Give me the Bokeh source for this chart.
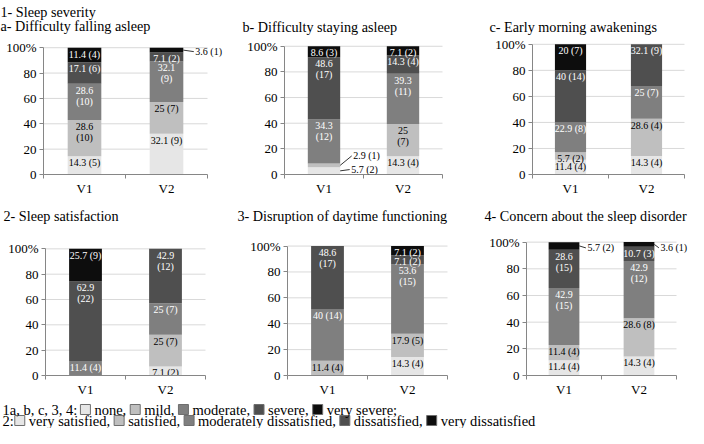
from bokeh.plotting import figure
from bokeh.models import Range1d, FixedTicker, CustomJSTickFormatter, ColumnDataSource, LabelSet, Title
from bokeh.layouts import row, column
from bokeh.core.properties import value
from bokeh.embed import file_html
from bokeh.resources import INLINE

FONT = "'Liberation Serif', serif"

# ---------------- data ----------------
visits = ["V1", "V2"]
severity_levels = ["none", "mild", "moderate", "severe", "very severe"]
satisfaction_levels = ["very satisfied", "satisfied", "moderately dissatisfied",
                       "dissatisfied", "very dissatisfied"]

y_ticks = [0, 20, 40, 60, 80, 100]
y_tick_labels = ["0", "20", "40", "60", "80", "100%"]

# percentages [V1, V2], per level (lightest -> darkest)
p1a_pct = [[14.3, 28.6, 28.6, 17.1, 11.4], [32.1, 25, 32.1, 7.1, 3.6]]
p1a_n = [[5, 10, 10, 6, 4], [9, 7, 9, 2, 1]]
p1b_pct = [[5.7, 2.9, 34.3, 48.6, 8.6], [14.3, 25, 39.3, 14.3, 7.1]]
p1b_n = [[2, 1, 12, 17, 3], [4, 7, 11, 4, 2]]
p1c_pct = [[11.4, 5.7, 22.9, 40, 20], [14.3, 28.6, 25, 32.1, 0]]
p1c_n = [[4, 2, 8, 14, 7], [4, 4, 7, 9, 0]]
p2_pct = [[0, 0, 11.4, 62.9, 25.7], [7.1, 25, 25, 42.9, 0]]
p2_n = [[0, 0, 4, 22, 9], [2, 7, 7, 12, 0]]
p3_pct = [[0, 11.4, 40, 48.6, 0], [14.3, 17.9, 53.6, 7.1, 7.1]]
p3_n = [[0, 4, 14, 17, 0], [4, 5, 15, 2, 2]]
p4_pct = [[11.4, 11.4, 42.9, 28.6, 5.7], [14.3, 28.6, 42.9, 10.7, 3.6]]
p4_n = [[4, 4, 15, 15, 2], [4, 8, 12, 3, 1]]

panel_titles = ["a- Difficulty falling asleep", "b- Difficulty staying asleep",
                "c- Early morning awakenings", "2- Sleep satisfaction",
                "3- Disruption of daytime functioning", "4- Concern about the sleep disorder"]
header_title = "1- Sleep severity"

legend_line1 = ["1a, b, c, 3, 4:", "none,", "mild,", "moderate,", "severe,", "very severe;"]
legend_line2 = ["2:", "very satisfied,", "satisfied,", "moderately dissatisfied,",
                "dissatisfied,", "very dissatisfied"]

# ---------------- style / layout ----------------
colors = ["#e6e6e6", "#bfbfbf", "#7f7f7f", "#4f4f4f", "#0d0d0d"]
label_colors = ["black", "black", "white", "white", "white"]
AXIS = "#868686"
GRID = "#d9d9d9"
BAR_W = 0.41
LABEL_SIZE = 10
TITLE_SIZE = "14.2px"

# pixel geometry of each panel: canvas origin/size, axis start/length,
# 100% line, 0 line, frame top, title x
panels = [
    dict(pct=p1a_pct, n=p1a_n, wrap=[(0, 1), (0, 2), (1, 2)], callouts={(1, 4): (12, -1.6)},
         X0=0, Y0=0, W=236, H=200, ax=43, alen=164, y100=44, y0=179, ftop=31, tx=0),
    dict(pct=p1b_pct, n=p1b_n, wrap=[(0, 2), (0, 3), (1, 1), (1, 2)],
         callouts={(0, 0): (11, 1.3), (0, 1): (13, 9.6)},
         X0=236, Y0=0, W=248, H=200, ax=284, alen=158, y100=43, y0=174, ftop=32, tx=242),
    dict(pct=p1c_pct, n=p1c_n, wrap=[], callouts={},
         X0=484, Y0=0, W=204, H=200, ax=532, alen=152, y100=44, y0=177, ftop=35, tx=489),
    dict(pct=p2_pct, n=p2_n, wrap=[(0, 3), (1, 3)], callouts={},
         X0=0, Y0=200, W=232, H=199, ax=45, alen=160, y100=248, y0=378, ftop=223, tx=3),
    dict(pct=p3_pct, n=p3_n, wrap=[(0, 3), (1, 2)], callouts={},
         X0=232, Y0=200, W=252, H=199, ax=287, alen=160, y100=246, y0=378, ftop=224, tx=237),
    dict(pct=p4_pct, n=p4_n, wrap=[(0, 2), (0, 3), (1, 2)],
         callouts={(0, 4): (8, -2), (1, 4): (6, -3.5)},
         X0=484, Y0=200, W=204, H=199, ax=526, alen=150, y100=242, y0=378, ftop=224, tx=484),
]


def make_panel(i, spec):
    W, H, X0, Y0 = spec["W"], spec["H"], spec["X0"], spec["Y0"]
    bl = spec["ax"] - X0
    bt = spec["ftop"] - Y0
    bb = Y0 + H - spec["y0"]
    ppx = spec["alen"] / 2.0                       # px per x unit
    ppy = (spec["y0"] - spec["y100"]) / 100.0      # px per y unit
    x_end = (X0 + W - spec["ax"]) / ppx
    y_end = (spec["y0"] - spec["ftop"]) / ppy

    p = figure(width=W, height=H, x_range=Range1d(0, x_end), y_range=Range1d(0, y_end),
               output_backend="svg", toolbar_location=None, tools="", title=None,
               min_border_left=bl, min_border_right=0, min_border_top=bt, min_border_bottom=bb)
    p.outline_line_color = None
    p.background_fill_color = "white"
    p.border_fill_color = "white"

    # horizontal gridlines limited to the plot area (0..2)
    gy = y_ticks[1:]
    p.segment(x0=[0] * len(gy), y0=gy, x1=[len(visits)] * len(gy), y1=gy,
              line_color=GRID, line_width=1)

    bars = dict(x=[], bottom=[], top=[], color=[])
    inl = dict(x=[], y=[], text=[], tcolor=[])
    outl = dict(x=[], y=[], text=[])
    lead = dict(x0=[], y0=[], x1=[], y1=[])
    for vi in range(len(visits)):
        xc = vi + 0.5
        bottom = 0.0
        for ci in range(5):
            v = spec["pct"][vi][ci]
            if v <= 0:
                continue
            top = bottom + v
            bars["x"].append(xc)
            bars["bottom"].append(bottom)
            bars["top"].append(top)
            bars["color"].append(colors[ci])
            sep = "\n" if (vi, ci) in spec["wrap"] else " "
            txt = f"{v:g}{sep}({spec['n'][vi][ci]})"
            if (vi, ci) in spec["callouts"]:
                dx, dy = spec["callouts"][(vi, ci)]
                xr = xc + BAR_W / 2
                ym = (bottom + top) / 2
                outl["x"].append(xr + dx / ppx)
                outl["y"].append(ym + dy / ppy)
                outl["text"].append(txt)
                lead["x0"].append(xr)
                lead["y0"].append(ym)
                lead["x1"].append(xr + (dx - 1.5) / ppx)
                lead["y1"].append(ym + dy / ppy)
            else:
                inl["x"].append(xc)
                inl["y"].append(top - 1.0 / ppy)
                inl["text"].append(txt)
                inl["tcolor"].append(label_colors[ci])
            bottom = top

    p.vbar(x="x", bottom="bottom", top="top", width=BAR_W, fill_color="color",
           line_color=None, source=ColumnDataSource(bars))
    p.text(x="x", y="y", text="text", text_color="tcolor", source=ColumnDataSource(inl),
           text_font=value(FONT), text_font_size=value(f"{LABEL_SIZE}px"),
           text_align="center", text_baseline="top", text_line_height=1.0)
    if outl["x"]:
        p.segment(x0="x0", y0="y0", x1="x1", y1="y1", source=ColumnDataSource(lead),
                  line_color="black", line_width=0.8)
        p.add_layout(LabelSet(x="x", y="y", text="text", source=ColumnDataSource(outl),
                              text_font=value(FONT), text_font_size=value(f"{LABEL_SIZE}px"),
                              text_color="black", text_align="left", text_baseline="middle"))

    # axes
    xa = p.xaxis[0]
    xa.bounds = (0, len(visits))
    xa.ticker = FixedTicker(ticks=[k + 0.5 for k in range(len(visits))],
                            minor_ticks=list(range(len(visits) + 1)))
    xa.formatter = CustomJSTickFormatter(args=dict(xlabels=visits),
                                         code="return xlabels[Math.floor(tick)];")
    xa.major_tick_line_color = None
    xa.major_tick_out = 4
    xa.major_tick_in = 0
    xa.minor_tick_line_color = AXIS
    xa.minor_tick_out = 4
    xa.minor_tick_in = 0
    xa.axis_line_color = AXIS
    xa.major_label_standoff = 2
    xa.major_label_text_font = FONT
    xa.major_label_text_font_size = "13px"
    xa.major_label_text_color = "black"

    ya = p.yaxis[0]
    ya.bounds = (0, 100)
    ya.ticker = FixedTicker(ticks=y_ticks)
    ya.formatter = CustomJSTickFormatter(args=dict(yvals=y_ticks, ylabels=y_tick_labels),
                                         code="const k = yvals.indexOf(tick); return k >= 0 ? ylabels[k] : '';")
    ya.major_tick_line_color = AXIS
    ya.major_tick_out = 4
    ya.major_tick_in = 0
    ya.minor_tick_line_color = None
    ya.axis_line_color = AXIS
    ya.major_label_standoff = 3
    ya.major_label_text_font = FONT
    ya.major_label_text_font_size = "13px"
    ya.major_label_text_color = "black"

    p.xgrid.visible = False
    p.ygrid.visible = False

    ttext = panel_titles[i] if i != 0 else header_title + "\n" + panel_titles[i]
    p.add_layout(Title(text=ttext, align="left", offset=spec["tx"] - spec["ax"], standoff=2,
                       text_font=FONT, text_font_size=TITLE_SIZE, text_font_style="normal",
                       text_color="black", text_line_height=0.9), "above")
    return p


figs = [make_panel(i, s) for i, s in enumerate(panels)]

# ---------------- legend ----------------
TW = {' ': 250, ',': 250, '.': 250, ':': 278, ';': 278, '(': 333, ')': 333, '-': 333,
      'a': 444, 'b': 500, 'c': 444, 'd': 500, 'e': 444, 'f': 333, 'g': 500, 'h': 500,
      'i': 278, 'l': 278, 'm': 778, 'n': 500, 'o': 500, 'p': 500, 'r': 333, 's': 389,
      't': 278, 'u': 500, 'v': 500, 'y': 500}
LEG_SIZE = 14.5


def tw(s):
    return sum(TW.get(c, 500) for c in s) / 1000.0 * LEG_SIZE


LW, LH = 688, 29
fl = figure(width=LW, height=LH, x_range=Range1d(0, LW), y_range=Range1d(0, LH),
            x_axis_type=None, y_axis_type=None, output_backend="svg",
            toolbar_location=None, tools="", title=None, min_border=0)
fl.outline_line_color = None
fl.background_fill_color = "white"
fl.border_fill_color = "white"

leg_text = dict(x=[], y=[], text=[])
leg_sq = dict(x=[], y=[], color=[])
line_y = [19, 8]
gaps_before = [[3, 4, 4, 4, 4], [1, 4, 4, 4, 4]]
for li, items in enumerate([legend_line1, legend_line2]):
    x = 2.0
    for k, t in enumerate(items):
        if k > 0:
            x += gaps_before[li][k - 1]
            leg_sq["x"].append(x + 5)
            leg_sq["y"].append(line_y[li])
            leg_sq["color"].append(colors[k - 1])
            x += 10 + 4
        leg_text["x"].append(x)
        leg_text["y"].append(line_y[li])
        leg_text["text"].append(t)
        x += tw(t)

fl.rect(x="x", y="y", width=10, height=10, fill_color="color", line_color="#6e6e6e",
        line_width=1, source=ColumnDataSource(leg_sq))
fl.text(x="x", y="y", text="text", source=ColumnDataSource(leg_text),
        text_font=value(FONT), text_font_size=value(f"{LEG_SIZE}px"), text_color="black",
        text_align="left", text_baseline="middle")

layout = column(row(figs[0], figs[1], figs[2]), row(figs[3], figs[4], figs[5]), fl)

open("out.html", "w").write(file_html(layout, INLINE))
